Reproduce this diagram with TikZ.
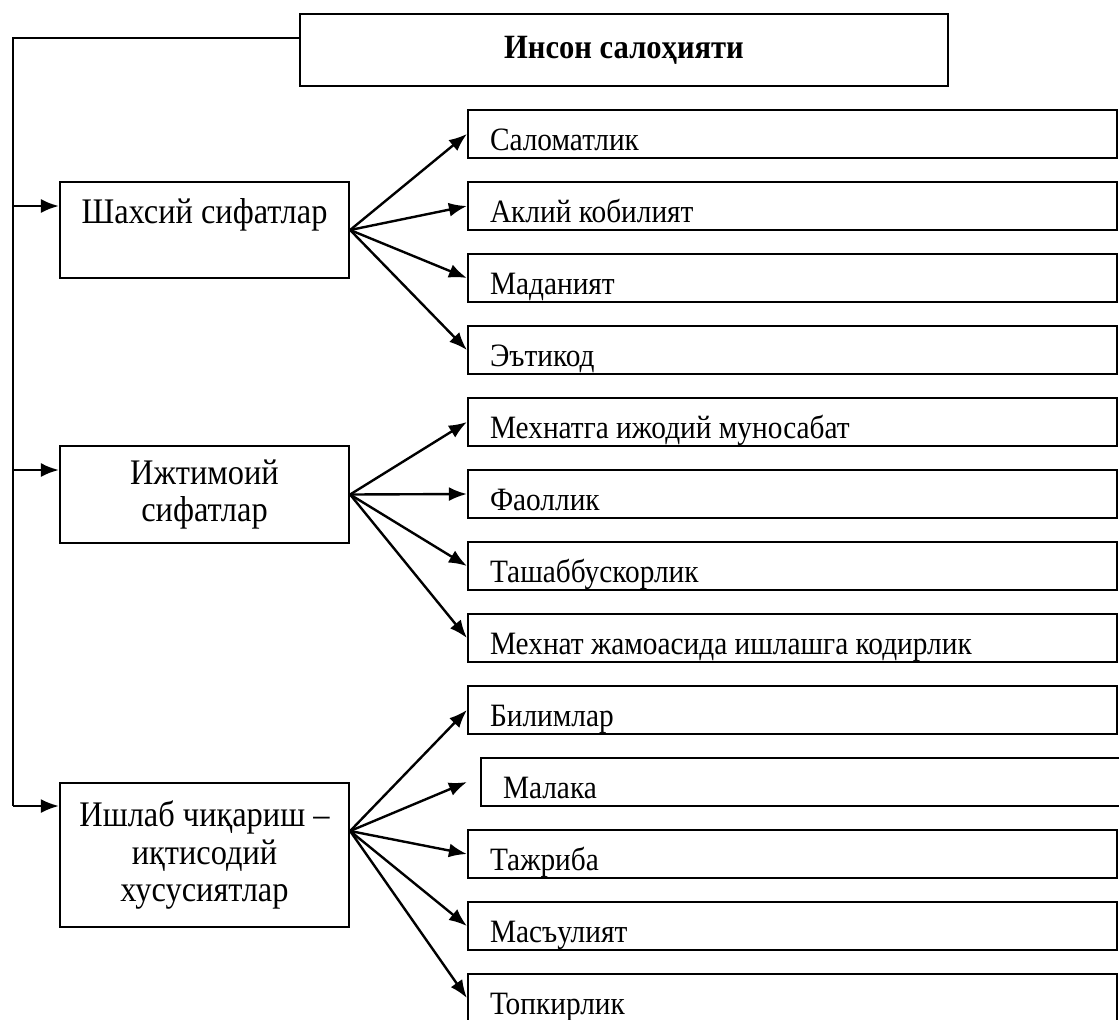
\documentclass[tikz,border=0pt]{standalone}
\usepackage{fontspec}
\setmainfont{Liberation Serif}[FakeStretch=0.9]
\usetikzlibrary{positioning}
\usetikzlibrary{arrows, arrows.meta}

\begin{document}
\begin{tikzpicture}[x=0.5pt, y=-0.5pt, line width=1.2pt,
    cell/.style={draw, line width=1.1pt, font=\fontsize{16.3}{18.3}\selectfont},
    mainbox/.style={cell, minimum width=324pt, minimum height=36pt, font=\fontsize{17}{18.3}\selectfont\bfseries},
    sidebox/.style={cell, minimum width=144.5pt, minimum height=48pt, align=center, inner sep=0pt, font=\fontsize{18}{18.6}\selectfont},
    itembox/.style={cell, text width=302.5pt, inner xsep=11pt, inner ysep=0pt, minimum height=24pt, text height=16pt, text depth=0pt, align=flush left},
    arr/.style={-{Latex[length=9pt, width=7pt]}}]
    \useasboundingbox (0,0) rectangle (1119,1019);

    \node[mainbox] (salohiyat) at (624,50) {Инсон салоҳияти};

    \node[sidebox] (shaxsiy) at (204.5,230) {Шахсий сифатлар\\ ~};
    \node[sidebox, minimum height=48.5pt] (ijtimoiy) at (204.5,494.5) {Ижтимоий\\сифатлар};
    \node[sidebox, minimum height=72pt] (ishlab) at (204.5,855) {Ишлаб чиқариш --\\иқтисодий\\хусусиятлар};

    % shaxsiy sifatlar
    \node[itembox] (salomatlik) at (792.5,134) {Саломатлик};
    \node[itembox] (aqliy) at (792.5,206) {Аклий кобилият};
    \node[itembox] (madaniyat) at (792.5,278) {Маданият};
    \node[itembox] (etiqod) at (792.5,350) {Эътикод};

    % ijtimoiy sifatlar
    \node[itembox] (ijodiy) at (792.5,422) {Мехнатга ижодий муносабат};
    \node[itembox] (faollik) at (792.5,494) {Фаоллик};
    \node[itembox] (tashabbus) at (792.5,566) {Ташаббускорлик};
    \node[itembox] (jamoa) at (792.5,638) {Мехнат жамоасида ишлашга кодирлик};

    % ishlab chiqarish
    \node[itembox] (bilimlar) at (792.5,710) {Билимлар};
    \node[itembox] (malaka) at (805.5,782) {Малака};
    \node[itembox] (tajriba) at (792.5,854) {Тажриба};
    \node[itembox] (masuliyat) at (792.5,926) {Масъулият};
    \node[itembox] (topqirlik) at (792.5,998) {Топкирлик};

    \coordinate (t1) at (13,206);
    \coordinate (t2) at (13,470);
    \coordinate (t3) at (13,806);
    \draw ([yshift=6pt]salohiyat.west) -| (t3);
    \draw[arr] (t1) -- (t1 -| shaxsiy.west);
    \draw[arr] (t2) -- (t2 -| ijtimoiy.west);
    \draw[arr] (t3) -- (t3 -| ishlab.west);

    \draw[arr] (shaxsiy.east) -- (salomatlik.west);
    \draw[arr] (shaxsiy.east) -- (aqliy.west);
    \draw[arr] (shaxsiy.east) -- (madaniyat.west);
    \draw[arr] (shaxsiy.east) -- (etiqod.west);

    \draw[arr] (ijtimoiy.east) -- (ijodiy.west);
    \draw[arr] (ijtimoiy.east) -- (faollik.west);
    \draw[arr] (ijtimoiy.east) -- (tashabbus.west);
    \draw[arr] (ijtimoiy.east) -- (jamoa.west);

    \coordinate (fan3) at ([yshift=12pt]ishlab.east);
    \coordinate (malakatip) at ([xshift=-6.5pt]malaka.west);
    \draw[arr] (fan3) -- (bilimlar.west);
    \draw[arr] (fan3) -- (malakatip);
    \draw[arr] (fan3) -- (tajriba.west);
    \draw[arr] (fan3) -- (masuliyat.west);
    \draw[arr] (fan3) -- (topqirlik.west);
\end{tikzpicture}
\end{document}
